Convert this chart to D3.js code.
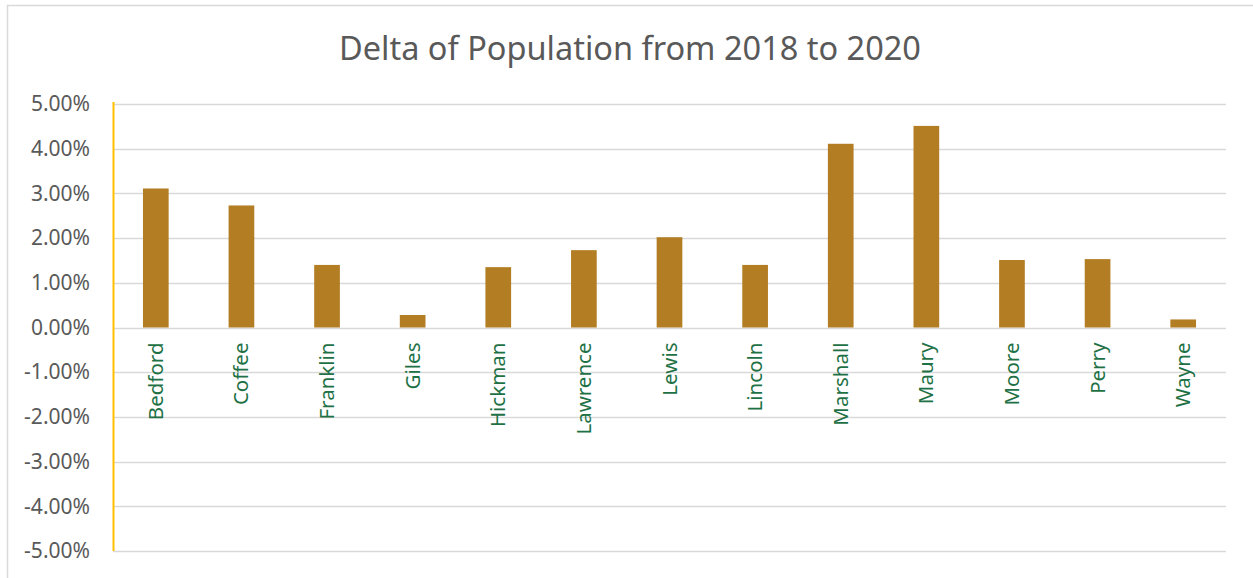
<!DOCTYPE html>
<html>
<head>
    <meta charset="UTF-8">
    <script src="https://d3js.org/d3.v7.min.js"></script>
    <style>
        body { margin: 0; background: #fff; }
        text { font-family: "Noto Sans", "Open Sans", sans-serif; }
    </style>
</head>
<body>
<div id="chart"></div>
<script>
    // counties and their population change 2018 -> 2020 (fraction)
    const counties = ["Bedford", "Coffee", "Franklin", "Giles", "Hickman", "Lawrence", "Lewis",
        "Lincoln", "Marshall", "Maury", "Moore", "Perry", "Wayne"];
    const delta = [0.0311, 0.0273, 0.0140, 0.0028, 0.0135, 0.0173, 0.0202,
        0.0140, 0.0411, 0.0451, 0.0151, 0.0153, 0.0018];
    const yTicks = [0.05, 0.04, 0.03, 0.02, 0.01, 0, -0.01, -0.02, -0.03, -0.04, -0.05];

    const W = 1253, H = 578;
    const margin = {top: 104, right: 27, bottom: 27, left: 113},
        width = W - margin.left - margin.right,
        height = H - margin.top - margin.bottom;

    const root = d3.select("#chart").append("svg")
        .attr("width", W)
        .attr("height", H);

    // chart border
    root.append("rect")
        .attr("x", 7.5).attr("y", 5.5)
        .attr("width", W).attr("height", H)
        .attr("fill", "none")
        .attr("stroke", "#d9d9d9")
        .attr("stroke-width", 1.5);

    root.append("text")
        .attr("x", 630)
        .attr("y", 60)
        .attr("text-anchor", "middle")
        .style("font-size", "32.5px")
        .style("fill", "#595959")
        .text("Delta of Population from 2018 to 2020");

    const svg = root.append("g")
        .attr("transform", `translate(${margin.left},${margin.top})`);

    const x = d3.scaleBand()
        .domain(counties)
        .range([0, width])
        .paddingInner(0.7)
        .paddingOuter(0.35);

    const y = d3.scaleLinear()
        .domain([-0.05, 0.05])
        .range([height, 0]);

    // gridlines
    svg.append("g")
        .selectAll("line")
        .data(yTicks)
        .join("line")
        .attr("x1", 0)
        .attr("x2", width)
        .attr("y1", d => Math.round(y(d)) + 0.5)
        .attr("y2", d => Math.round(y(d)) + 0.5)
        .attr("stroke", "#d9d9d9")
        .attr("stroke-width", 1.5);

    // y axis labels (plain hyphen for negatives, like Excel)
    const pct = d => (d * 100).toFixed(2) + "%";
    const yAxis = svg.append("g")
        .call(d3.axisLeft(y).tickValues(yTicks).tickFormat(pct).tickSize(0).tickPadding(23));
    yAxis.select(".domain").remove();
    yAxis.selectAll("text")
        .style("font-size", "21px")
        .style("fill", "#595959")
        .style("font-family", "'Noto Sans', sans-serif");

    // yellow vertical axis line
    svg.append("line")
        .attr("x1", 0.5).attr("x2", 0.5)
        .attr("y1", -2).attr("y2", height)
        .attr("stroke", "#ffc000")
        .attr("stroke-width", 2);

    // bars
    svg.append("g")
        .selectAll("rect")
        .data(delta)
        .join("rect")
        .attr("x", (d, i) => x(counties[i]))
        .attr("width", x.bandwidth())
        .attr("y", d => y(Math.max(0, d)))
        .attr("height", d => Math.abs(y(d) - y(0)))
        .attr("fill", "#b27d23");

    // category labels, rotated
    svg.append("g")
        .selectAll("text")
        .data(counties)
        .join("text")
        .attr("transform", d => `translate(${x(d) + x.bandwidth() / 2 + 7},${y(0) + 15}) rotate(-90)`)
        .attr("text-anchor", "end")
        .style("font-size", "20.5px")
        .style("fill", "#1e7145")
        .text(d => d);
</script>
</body>
</html>
